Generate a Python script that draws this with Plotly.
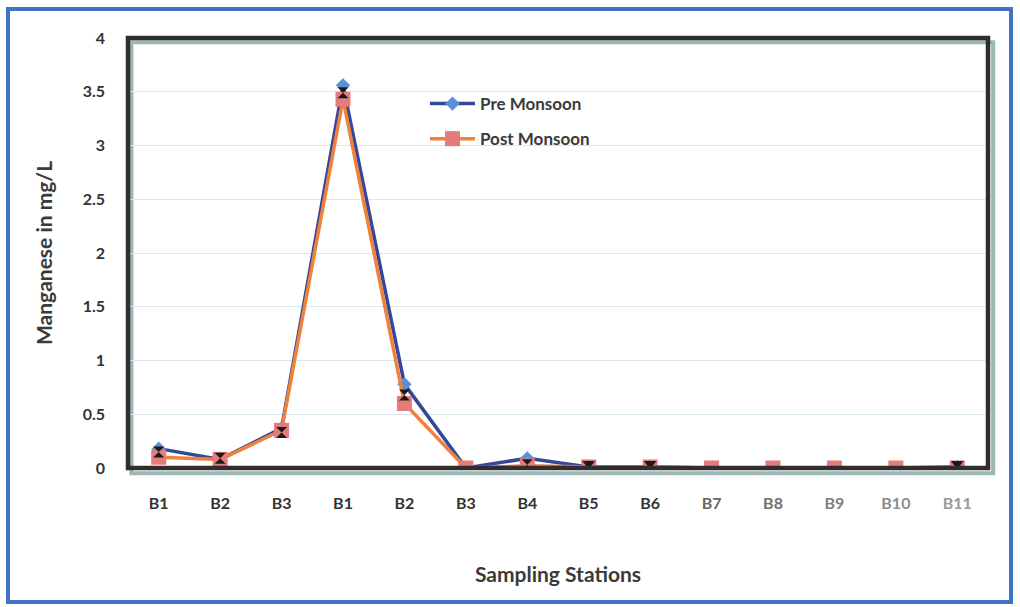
import plotly.graph_objects as go

# Sampling stations (two groups, labels repeat)
stations = ["B1", "B2", "B3", "B1", "B2", "B3", "B4", "B5", "B6", "B7", "B8", "B9", "B10", "B11"]
pre_monsoon = [0.18, 0.08, 0.37, 3.56, 0.78, 0.0, 0.09, 0.01, 0.01, 0.0, 0.0, 0.0, 0.0, 0.01]
post_monsoon = [0.10, 0.08, 0.35, 3.43, 0.60, 0.0, 0.02, 0.01, 0.01, 0.0, 0.0, 0.0, 0.0, 0.0]
# secondary marker series (no line, not in legend)
marker_series = [0.15, 0.09, 0.33, 3.49, 0.68, None, 0.03, 0.04, 0.04, None, None, None, None, 0.04]
marker_symbols = ["hourglass"] * 7 + ["triangle-down"] * 7
tick_colors = ["#333333"] * 9 + ["#666666", "#707070", "#808080", "#8c8c8c", "#999999"]

xpos = list(range(len(stations)))
ticktext = [f"<b><span style='color:{c}'>{s}</span></b>" for s, c in zip(stations, tick_colors)]
yticks = [0, 0.5, 1, 1.5, 2, 2.5, 3, 3.5, 4]
yticktext = [f"<b>{v:g}</b>" for v in yticks]

fig = go.Figure()
fig.add_trace(go.Scatter(
    x=xpos, y=pre_monsoon, mode="lines+markers", name="<b>Pre Monsoon</b>",
    legendgroup="pre",
    line=dict(color="#34479a", width=3.5),
    marker=dict(symbol="diamond", size=11, color="#5c8fd8"),
))
fig.add_trace(go.Scatter(
    x=xpos, y=post_monsoon, mode="lines+markers", name="<b>Post Monsoon</b>",
    legendgroup="post",
    line=dict(color="#f0813a", width=3.5),
    marker=dict(symbol="square", size=15, color="#e57b7b"),
))
fig.add_trace(go.Scatter(
    x=xpos, y=marker_series, mode="markers", showlegend=False,
    marker=dict(symbol=marker_symbols, size=11, color="#1a1a1a"),
))

L, R, T, B = 128, 32, 38, 139
W, H = 1020, 607
pw, ph = W - L - R, H - T - B


def px(x):
    return (x - L) / pw


def py(y):
    return (H - B - y) / ph


fig.update_layout(
    width=W, height=H,
    margin=dict(l=L, r=R, t=T, b=B),
    paper_bgcolor="white", plot_bgcolor="white",
    font=dict(family="Lato, 'Open Sans', sans-serif", color="#333333"),
    showlegend=True,
    legend=dict(
        x=px(425), y=py(86), xanchor="left", yanchor="top",
        bgcolor="rgba(0,0,0,0)", font=dict(size=17, color="#3a3a3a"),
        tracegroupgap=10, itemwidth=45,
    ),
    xaxis=dict(
        range=[-0.5, 13.5], tickmode="array", tickvals=xpos, ticktext=ticktext,
        showgrid=False, zeroline=False, showline=False, ticks="",
        tickfont=dict(size=16, color="#333333"),
        title=dict(text="<b>Sampling Stations</b>", font=dict(size=21, color="#3a3a3a"), standoff=56),
        ticklabelstandoff=24,
    ),
    yaxis=dict(
        range=[0, 4], tickmode="array", tickvals=yticks, ticktext=yticktext,
        showgrid=True, gridcolor="#d9e8ef", gridwidth=1,
        zeroline=False, showline=False, ticks="",
        tickfont=dict(size=16, color="#333333"),
        ticklabelstandoff=22,
        title=dict(text="<b>Manganese in mg/L</b>", font=dict(size=21, color="#3a3a3a"), standoff=24),
    ),
    shapes=[
        # shadow under plot frame
        dict(type="rect", xref="paper", yref="paper", x0=0.004, y0=-0.012, x1=1.006, y1=0.99,
             line=dict(color="#9bb7b5", width=4), layer="below"),
        # plot frame
        dict(type="rect", xref="paper", yref="paper", x0=0, y0=0, x1=1, y1=1,
             line=dict(color="#2e2e2e", width=4.5), layer="above"),
        # outer border of the figure
        dict(type="rect", xref="paper", yref="paper",
             x0=px(8), x1=px(1011), y0=py(602), y1=py(9),
             line=dict(color="#4272c4", width=4)),
    ],
)

fig.write_html("out.html")
